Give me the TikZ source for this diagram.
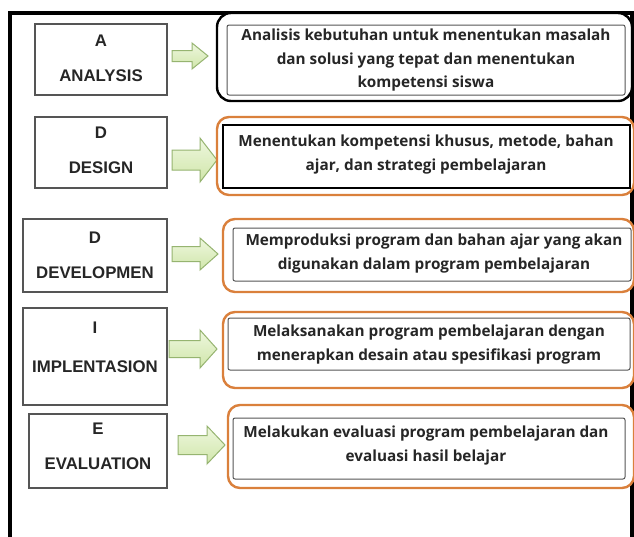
\documentclass[tikz,border=0pt]{standalone}
\usepackage{fontspec}
\setmainfont{Liberation Sans}
\newfontfamily\descfont{Open Sans}
\usetikzlibrary{fit}
\definecolor{frameorange}{RGB}{218,128,60}
\definecolor{boxgray}{RGB}{85,85,85}
\definecolor{arrowtop}{RGB}{238,247,222}
\definecolor{arrowbot}{RGB}{208,230,170}
\definecolor{arrowedge}{RGB}{150,180,112}
\tikzset{
  leftbox/.style={draw=boxgray, line width=1.1pt, fill=white, inner sep=0pt},
  lefttext/.style={font=\fontsize{16.8}{35}\selectfont\bfseries, align=center, inner sep=0pt, text=black!85},
  blackround/.style={draw=black, line width=2.4pt, rounded corners=14pt, fill=white, inner sep=0pt},
  orangeround/.style={draw=frameorange, line width=2.4pt, rounded corners=12pt, fill=white, inner sep=0pt},
  innerthin/.style={draw=boxgray, line width=1pt, rounded corners=2pt, fill=white, inner sep=0pt},
  innerthick/.style={draw=black, line width=2.6pt, fill=white, inner sep=0pt},
  desctext/.style={font=\descfont\fontsize{15.3}{23.5}\selectfont\bfseries, align=center, inner sep=0pt, text=black!85},
  greenarrow/.style={top color=arrowtop, bottom color=arrowbot, draw=arrowedge, line width=1pt, line join=miter}
}
% #1 x0, #2 xh, #3 x1, #4 yc, #5 half shaft, #6 half head
\newcommand{\garrow}[6]{%
  \shade[greenarrow] (#1,#4-#5) -- (#2,#4-#5) -- (#2,#4-#6) -- (#3,#4) -- (#2,#4+#6) -- (#2,#4+#5) -- (#1,#4+#5) -- cycle;}
\begin{document}
\begin{tikzpicture}[x=1pt,y=-1pt]
\useasboundingbox (0,0) rectangle (634,536);
\clip (0,0) rectangle (634,536);
\fill[white] (0,0) rectangle (634,536);
% outer frame
\draw[line width=3.2pt] (10,545) -- (10,13) -- (632,13) -- (632,545);

% left boxes
\node[leftbox, fit={(35,24) (167,95)}] (bA) {};
\node[leftbox, fit={(35,117) (167,188)}] (bD1) {};
\node[leftbox, fit={(23,219) (167,292)}] (bD2) {};
\node[leftbox, fit={(23,308) (167,405)}] (bI) {};
\node[leftbox, fit={(29,414) (167,488)}] (bE) {};
\node[lefttext] (tA) at (101,58) {A\\ANALYSIS};
\node[lefttext] (tD1) at (101,150.5) {D\\DESIGN};
\node[lefttext] (tD2) at (95,255) {D\\DEVELOPMEN};
\node[lefttext, font=\fontsize{16.8}{39}\selectfont\bfseries] (tI) at (95,347.5) {I\\IMPLENTASION};
\node[lefttext] (tE) at (98,446.5) {E\\EVALUATION};

% arrows
\garrow{172}{192}{208}{56}{5.5}{13}
\garrow{172}{200}{217}{160}{10}{22}
\garrow{172}{200}{218}{254}{7.5}{16}
\garrow{169}{200}{217}{349}{8.5}{19}
\garrow{178}{207}{225}{445}{9.5}{19}

% right boxes
\node[blackround, fit={(217,13) (632,101)}] (o1) {};
\node[innerthin, fit={(227,25) (625,95)}] (i1) {};
\node[orangeround, fit={(217,117) (634,195)}] (o2) {};
\node[innerthick, fit={(223,125) (630,188)}] (i2) {};
\node[orangeround, fit={(223,219) (634,292)}] (o3) {};
\node[innerthin, fit={(233,228) (631,281)}] (i3) {};
\node[orangeround, fit={(223,312) (634,388)}] (o4) {};
\node[innerthin, fit={(228,318) (630,370)}] (i4) {};
\node[orangeround, fit={(228,405) (634,488)}] (o5) {};
\node[innerthin, fit={(233,418) (625,479)}] (i5) {};

\node[desctext] (d1) at (426,60.5) {Analisis kebutuhan untuk menentukan masalah\\dan solusi yang tepat dan menentukan\\kompetensi siswa};
\node[desctext] (d2) at (426,154.5) {Menentukan kompetensi khusus, metode, bahan\\ajar, dan strategi pembelajaran};
\node[desctext] (d3) at (434,253.5) {Memproduksi program dan bahan ajar yang akan\\digunakan dalam program pembelajaran};
\node[desctext] (d4) at (429,344.5) {Melaksanakan program pembelajaran dengan\\menerapkan desain atau spesifikasi program};
\node[desctext] (d5) at (426,445.5) {Melakukan evaluasi program pembelajaran dan\\evaluasi hasil belajar};
\end{tikzpicture}
\end{document}
